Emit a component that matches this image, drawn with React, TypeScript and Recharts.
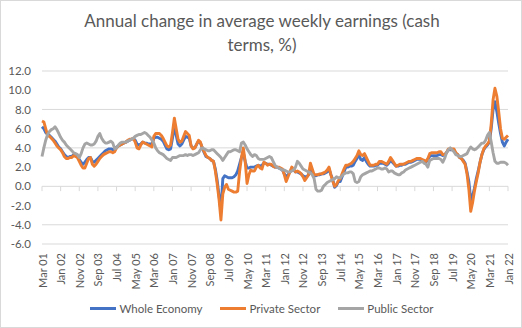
import { CartesianGrid, Line, LineChart, ReferenceLine, XAxis, YAxis } from "recharts"

// monthly series, Mar 2001 .. Jan 2022
const monthNames = ["Jan", "Feb", "Mar", "Apr", "May", "Jun", "Jul", "Aug", "Sep", "Oct", "Nov", "Dec"]
const startYear = 2001
const startMonth = 2 // March
const yTicks = [-6, -4, -2, 0, 2, 4, 6, 8, 10, 12]

const wholeEconomy = [
  6.2, 6.0, 5.6, 5.4, 5.3, 5.1, 4.9, 4.7, 4.4, 4.1,
  3.9, 3.6, 3.3, 3.1, 3.0, 3.1, 3.1, 3.3, 3.2, 3.1,
  2.8, 2.5, 2.3, 2.5, 2.8, 3.0, 3.0, 2.6, 2.5, 2.7,
  2.9, 3.1, 3.3, 3.5, 3.7, 3.8, 3.9, 3.9, 3.8, 3.9,
  4.1, 4.2, 4.3, 4.4, 4.5, 4.6, 4.7, 4.8, 4.9, 5.0,
  4.8, 4.4, 4.3, 4.4, 4.6, 4.5, 4.5, 4.4, 4.4, 4.4,
  5.0, 5.1, 5.1, 5.0, 4.9, 4.7, 4.3, 3.9, 3.8, 3.9,
  5.0, 6.3, 5.3, 4.4, 4.2, 4.4, 4.8, 5.2, 5.1, 5.0,
  4.2, 4.0, 4.0, 4.4, 4.7, 4.5, 4.0, 3.5, 3.1, 3.0,
  2.9, 2.7, 2.6, 1.8, 0.6, -1.0, -2.6, 0.8, 1.1, 1.0,
  0.9, 0.9, 0.9, 1.0, 1.2, 1.6, 2.3, 3.0, 3.5, 2.6,
  1.9, 1.9, 2.0, 2.0, 2.0, 2.1, 2.2, 2.1, 2.2, 2.4,
  2.4, 2.3, 2.3, 2.2, 2.1, 2.0, 2.0, 1.9, 1.8, 1.7,
  1.3, 1.0, 1.2, 1.5, 1.8, 1.7, 1.5, 1.5, 1.4, 1.3,
  1.1, 1.0, 1.0, 1.2, 1.8, 1.5, 1.1, 1.1, 1.2, 1.2,
  1.3, 1.3, 1.4, 1.5, 1.8, 1.2, 0.7, -0.1, 0.1, 0.5,
  0.5, 1.0, 1.5, 2.0, 2.0, 2.1, 2.1, 2.2, 2.6, 2.9,
  3.3, 2.8, 2.7, 3.0, 2.6, 2.3, 2.1, 2.1, 2.1, 2.2,
  2.2, 2.4, 2.4, 2.4, 2.3, 2.2, 2.4, 2.7, 2.5, 2.3,
  2.1, 2.1, 2.2, 2.2, 2.3, 2.3, 2.4, 2.5, 2.5, 2.6,
  2.7, 2.8, 2.8, 2.8, 2.7, 2.6, 2.5, 2.8, 3.1, 3.2,
  3.2, 3.2, 3.2, 3.3, 3.3, 3.2, 3.3, 3.5, 3.8, 3.8,
  3.8, 3.8, 3.4, 3.3, 3.0, 2.9, 2.7, 2.4, 1.5, 0.5,
  -1.4, -1.0, -0.2, 0.8, 1.6, 2.5, 3.3, 3.8, 4.1, 4.3,
  4.6, 6.0, 8.0, 8.8, 7.8, 6.6, 5.5, 4.6, 4.2, 4.6, 4.9,
]

const privateSector = [
  6.8, 6.7, 6.0, 5.3, 5.2, 5.0, 4.8, 4.5, 4.2, 4.0,
  3.8, 3.5, 3.1, 2.9, 2.9, 3.0, 3.0, 3.2, 3.1, 3.0,
  2.6, 2.2, 1.9, 1.9, 2.4, 2.9, 3.0, 2.3, 2.1, 2.3,
  2.6, 2.9, 3.1, 3.3, 3.4, 3.5, 3.6, 3.6, 3.5, 3.6,
  4.0, 4.2, 4.3, 4.4, 4.5, 4.6, 4.8, 4.9, 4.9, 5.0,
  4.6, 4.0, 3.9, 4.3, 4.6, 4.5, 4.4, 4.3, 4.2, 4.1,
  5.2, 5.5, 5.5, 5.5, 5.3, 5.0, 4.6, 4.2, 4.1, 4.3,
  5.6, 7.1, 6.0, 4.9, 4.6, 4.7, 5.2, 5.7, 5.5, 5.3,
  4.2, 3.9, 4.0, 4.4, 4.8, 4.6, 4.0, 3.6, 3.2, 3.0,
  2.9, 2.7, 2.6, 1.6, 0.2, -1.4, -3.5, -0.8, -0.1, 0.2,
  -0.3, -0.4, -0.5, -0.6, -0.6, -0.5, 1.5, 3.0, 4.0, 2.6,
  0.3, 1.2, 1.7, 1.6, 1.6, 2.0, 2.2, 1.9, 1.8, 2.5,
  2.4, 2.2, 2.3, 2.3, 2.1, 2.0, 2.0, 2.0, 1.9, 1.8,
  1.2, 0.5, 1.0, 1.5, 2.0, 1.8, 1.5, 1.6, 1.5, 1.3,
  1.0, 0.6, 0.9, 1.2, 2.4, 1.8, 1.2, 1.2, 1.2, 1.3,
  1.3, 1.4, 1.5, 1.7, 2.0, 1.2, 0.5, 0.0, 0.2, 0.6,
  0.8, 1.3, 1.8, 2.2, 2.2, 2.3, 2.4, 2.6, 2.9, 3.2,
  3.7, 3.3, 3.2, 3.4, 3.0, 2.6, 2.2, 2.2, 2.2, 2.3,
  2.3, 2.6, 2.6, 2.5, 2.4, 2.3, 2.6, 3.0, 2.7, 2.4,
  2.1, 2.2, 2.3, 2.3, 2.3, 2.4, 2.5, 2.6, 2.6, 2.7,
  2.8, 2.9, 2.9, 2.9, 2.8, 2.7, 2.6, 2.9, 3.4, 3.5,
  3.5, 3.5, 3.5, 3.6, 3.6, 3.3, 3.3, 3.5, 3.9, 3.9,
  3.9, 3.9, 3.5, 3.3, 3.0, 2.9, 2.6, 2.3, 1.3, -0.3,
  -2.6, -1.7, -0.5, 0.5, 1.4, 2.5, 3.3, 3.9, 4.2, 4.4,
  4.7, 6.5, 9.0, 10.2, 9.4, 7.8, 6.0, 5.0, 4.9, 5.1, 5.3,
]

const publicSector = [
  3.1, 4.0, 4.8, 5.4, 5.7, 5.9, 6.0, 6.2, 5.9, 5.5,
  5.1, 4.8, 4.6, 4.3, 4.1, 3.9, 3.7, 3.5, 3.4, 3.3,
  3.0, 3.4, 4.0, 4.4, 4.5, 4.4, 4.3, 4.3, 4.4, 4.7,
  5.2, 5.5, 5.0, 4.7, 4.5, 4.5, 4.6, 4.7, 4.5, 3.9,
  4.0, 4.3, 4.5, 4.6, 4.6, 4.6, 4.7, 4.8, 4.9, 5.0,
  5.2, 5.3, 5.4, 5.4, 5.5, 5.6, 5.5, 5.3, 5.1, 4.8,
  4.5, 4.0, 3.7, 3.5, 3.4, 3.3, 3.1, 2.9, 2.8, 2.7,
  3.0, 3.0, 3.0, 3.1, 3.2, 3.2, 3.2, 3.3, 3.2, 3.3,
  3.3, 3.2, 3.3, 3.4, 3.5, 3.8, 4.0, 3.9, 3.8, 3.7,
  3.7, 3.8, 3.8, 3.6, 3.4, 3.2, 3.0, 2.7, 3.0, 3.3,
  3.6, 3.6, 3.7, 3.8, 3.8, 3.7, 3.6, 4.5, 4.6, 4.3,
  3.9, 3.6, 3.3, 3.1, 3.3, 3.2, 2.9, 2.8, 2.8, 2.8,
  2.9, 3.0, 3.1, 3.0, 2.6, 2.2, 2.0, 1.9, 1.8, 1.7,
  1.7, 1.6, 1.5, 1.5, 1.6, 1.7, 2.0, 2.6, 2.4, 2.1,
  1.8, 1.7, 1.6, 1.5, 1.4, 1.2, 0.8, -0.3, -0.5, -0.5,
  -0.4, 0.0, 0.2, 0.4, 0.5, 0.6, 0.7, 0.8, 1.0, 0.9,
  0.9, 1.1, 1.3, 1.4, 1.4, 1.5, 1.5, 1.3, 0.5, 0.4,
  0.5, 1.0, 1.2, 1.3, 1.4, 1.5, 1.6, 1.6, 1.7, 1.8,
  1.9, 1.9, 1.8, 1.8, 1.9, 1.8, 1.5, 1.6, 1.6, 1.4,
  1.3, 1.2, 1.2, 1.4, 1.5, 1.7, 1.8, 1.9, 2.0, 2.1,
  2.2, 2.3, 2.4, 2.5, 2.6, 2.4, 2.3, 2.0, 2.7, 2.8,
  2.9, 2.9, 2.9, 2.9, 2.8, 2.5, 2.9, 3.5, 3.8, 4.0,
  3.8, 3.6, 3.3, 3.2, 3.1, 3.1, 3.2, 3.3, 3.4, 3.8,
  4.1, 3.9, 3.8, 3.9, 4.1, 4.3, 4.5, 4.5, 4.8, 5.3,
  5.6, 4.6, 3.5, 2.6, 2.4, 2.4, 2.5, 2.5, 2.5, 2.4, 2.2,
]

const monthLabel = (i: number) => {
  const m = startMonth + i
  const year = startYear + Math.floor(m / 12)
  return `${monthNames[m % 12]} ${String(year % 100).padStart(2, "0")}`
}

const data = wholeEconomy.map((v, i) => ({
  month: monthLabel(i),
  whole: v,
  priv: privateSector[i],
  pub: publicSector[i],
}))

// labelled months (every 10th) carry a small tick mark on the zero line
const tickMonths = data.filter((_, i) => i % 10 === 0).map((d) => d.month)

const series = [
  { key: "whole", name: "Whole Economy", color: "#4472C4" },
  { key: "priv", name: "Private Sector", color: "#ED7D31" },
  { key: "pub", name: "Public Sector", color: "#A5A5A5" },
]

const font = "Lato, 'Open Sans', sans-serif"
const textColor = "#595959"

const XTick = ({ x, y, payload }: any) => (
  <text
    x={0}
    y={0}
    transform={`translate(${x},${y}) rotate(-90)`}
    textAnchor="end"
    dominantBaseline="central"
    fill={textColor}
    fontSize={11}
    fontFamily={font}
  >
    {payload.value}
  </text>
)

export default function App() {
  return (
    <div
      style={{
        position: "absolute",
        left: 0,
        top: 0,
        width: 522,
        height: 328,
        boxSizing: "border-box",
        border: "1px solid #d9d9d9",
        background: "#fff",
        fontFamily: font,
      }}
    >
      <div
        style={{
          position: "absolute",
          top: 8,
          left: 0,
          width: 522,
          textAlign: "center",
          fontSize: 17,
          lineHeight: "24px",
          color: textColor,
        }}
      >
        Annual change in average weekly earnings (cash
        <br />
        terms, %)
      </div>
      <div style={{ position: "absolute", left: -1, top: -1 }}>
        <LineChart width={522} height={328} data={data} margin={{ top: 71, right: 14, left: 0, bottom: 44 }}>
          <CartesianGrid vertical={false} stroke="#d9d9d9" />
          <XAxis
            dataKey="month"
            interval={9}
            axisLine={false}
            tickLine={false}
            tickSize={0}
            tickMargin={9}
            height={40}
            tick={<XTick />}
          />
          <YAxis
            domain={[-6, 12]}
            ticks={yTicks}
            width={42}
            axisLine={false}
            tickLine={false}
            tickSize={0}
            tickMargin={11}
            tickFormatter={(v: number) => v.toFixed(1)}
            tick={{ fill: textColor, fontSize: 11.5, fontFamily: font }}
          />
          {tickMonths.map((m) => (
            <ReferenceLine
              key={m}
              segment={[
                { x: m, y: 0 },
                { x: m, y: -0.5 },
              ]}
              stroke="#d9d9d9"
            />
          ))}
          {series.map((s) => (
            <Line
              key={s.key}
              type="linear"
              dataKey={s.key}
              name={s.name}
              stroke={s.color}
              strokeWidth={2.9}
              strokeLinejoin="round"
              dot={false}
              isAnimationActive={false}
            />
          ))}
        </LineChart>
      </div>
      <div
        style={{
          position: "absolute",
          top: 301,
          left: 0,
          width: 522,
          display: "flex",
          justifyContent: "center",
          gap: 18,
          fontSize: 11.5,
          color: textColor,
        }}
      >
        {series.map((s) => (
          <div key={s.key} style={{ display: "flex", alignItems: "center", gap: 3 }}>
            <div style={{ width: 26, height: 3, background: s.color }}></div>
            <span>{s.name}</span>
          </div>
        ))}
      </div>
    </div>
  )
}
